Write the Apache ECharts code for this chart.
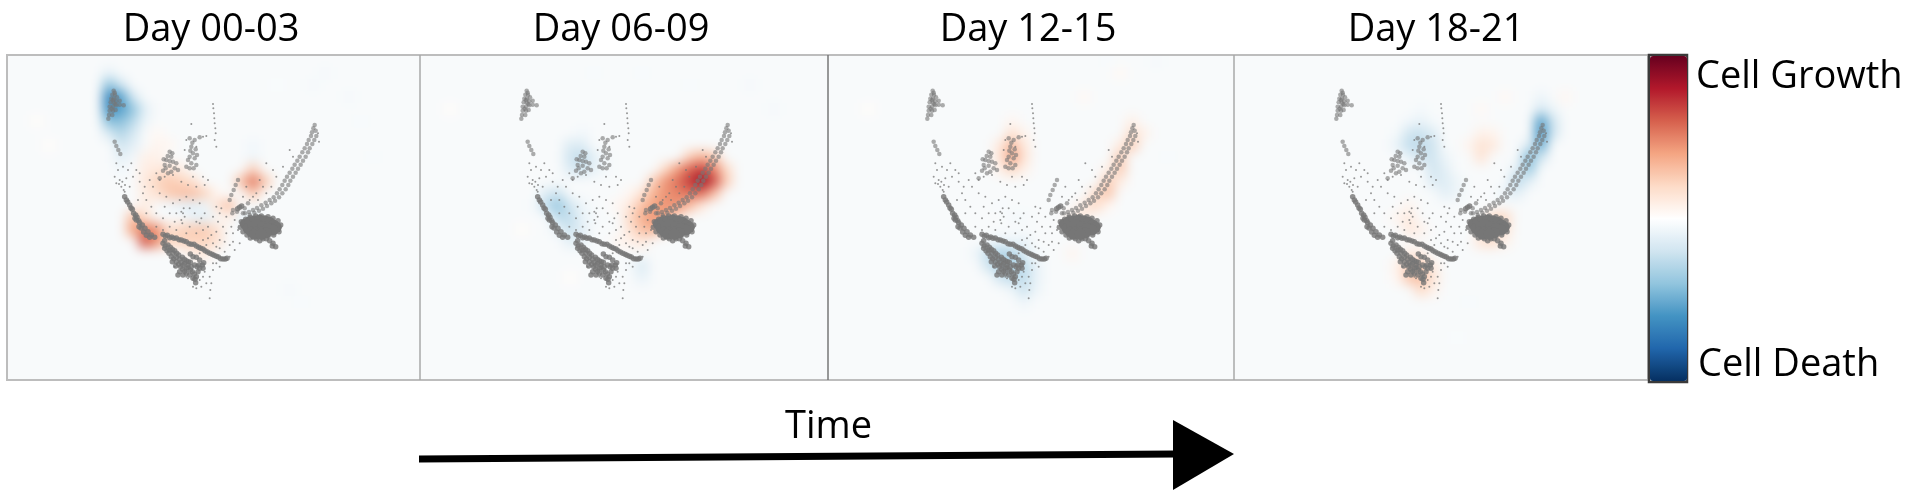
<!DOCTYPE html>
<html>
<head>
<meta charset="utf-8">
<title>Cell growth over time</title>
<script src="https://cdn.jsdelivr.net/npm/echarts@6/dist/echarts.min.js"></script>
<style>
    body { margin: 0; background: #fff; }
    #heatClip { position: absolute; left: 7px; top: 55px; width: 1641px; height: 325px; overflow: hidden; }
    #heat { position: absolute; left: -7px; top: -55px; width: 1914px; height: 497px; background: #f8fafb; filter: blur(6px); }
    #front { position: absolute; left: 0; top: 0; width: 1914px; height: 497px; filter: blur(0.7px); }
</style>
</head>
<body>
<div id="heatClip"><div id="heat"></div></div>
<div id="front"></div>
<script>
const periods = ['Day 00-03', 'Day 06-09', 'Day 12-15', 'Day 18-21'];
const columns = Array.from({length: 34}, (_, i) => i);
const rows = Array.from({length: 27}, (_, i) => i);

// Growth (+) and death (-) cells per period, as [column, row, value]
const growthDay00 = [
    [8,1,-.1],[8,2,-.4],[9,2,-.2],[8,3,-.66],[9,3,-.55],[10,3,-.18],[8,4,-.62],[9,4,-.55],[10,4,-.4],[11,4,-.12],
    [8,5,-.42],[9,5,-.42],[10,5,-.28],[11,5,-.08],[8,6,-.16],[9,6,-.3],[10,6,-.18],[9,7,-.2],[10,7,-.12],[9,8,-.12],[10,8,-.06],[9,9,-.06],
    [10,13,.3],[10,14,.4],[11,14,.52],[11,15,.62],[12,14,.45],[12,15,.45],[13,15,.2],[11,13,.18],[11,12,.1],
    [12,9,.12],[13,9,.15],[14,9,.1],[12,10,.22],[13,10,.26],[14,10,.22],[15,10,.16],[12,11,.16],[13,11,.26],
    [14,11,.3],[15,11,.3],[16,11,.22],[11,8,.08],[12,8,.08],[11,9,.1],[11,10,.12],[11,11,.1],[12,7,.06],[13,7,.05],[12,6,.04],
    [13,14,.16],[14,14,.22],[15,14,.26],[16,14,.26],[17,14,.16],[14,15,.22],[15,15,.22],[16,15,.22],[17,15,.16],[15,16,.1],[16,16,.12],
    [20,10,.55],[19,10,.28],[21,10,.26],[20,9,.24],[20,11,.26],
    [18,12,.3],[17,12,.16],[18,13,.08],[17,11,.05],
    [13,12,-.06],[14,12,-.1],[15,12,-.12],[16,13,-.12],[15,13,-.1],[16,12,-.08],[19,13,-.1],[20,13,-.1],
    [20,7,-.06],[20,8,-.07],[22,2,-.03],[25,2,-.05],[26,1,-.05],[28,3,-.05],[29,5,-.04],[30,8,-.04],[23,19,-.05],[24,20,-.04],[2,5,.02],[3,7,.02]
];
const growthDay06 = [
    [22,8,.25],[23,8,.35],[24,8,.25],[20,9,.2],[21,9,.42],[22,9,.58],[23,9,.68],[24,9,.5],[25,9,.2],
    [19,10,.25],[20,10,.45],[21,10,.55],[22,10,.7],[23,10,.85],[24,10,.65],[25,10,.25],
    [18,11,.15],[19,11,.35],[20,11,.45],[21,11,.5],[22,11,.55],[23,11,.55],[24,11,.3],
    [17,12,.12],[18,12,.3],[19,12,.4],[20,12,.45],[21,12,.45],[22,12,.3],[23,12,.12],
    [17,13,.2],[18,13,.35],[19,13,.45],[20,13,.4],[21,13,.15],[17,14,.15],[18,14,.3],[19,14,.35],[20,14,.1],
    [17,15,.08],[18,15,.12],[16,15,.06],[16,12,.05],[17,11,.05],
    [12,7,-.15],[13,7,-.15],[12,8,-.2],[13,8,-.25],[14,8,-.12],[12,9,-.15],[13,9,-.2],[14,9,-.1],[13,6,-.06],[15,9,-.05],[15,8,-.05],
    [10,11,-.15],[10,12,-.25],[11,11,-.2],[11,12,-.38],[12,12,-.2],[11,13,-.25],[12,13,-.25],[12,14,-.22],[13,13,-.1],[13,14,-.12],
    [12,15,-.12],[13,15,-.1],[11,14,-.1],[13,12,-.08],[14,13,-.05],[9,12,-.05],
    [18,17,-.16],[18,18,-.1],[17,17,-.05],
    [14,1,-.04],[18,1,-.04],[22,2,-.04],[27,2,-.05],[29,4,-.05],[2,4,.02],[8,14,.02],[12,18,.02]
];
const growthDay12 = [
    [15,8,.42],[15,7,.32],[15,6,.16],[14,7,.12],[16,7,.12],[14,8,.15],[16,8,.15],[15,9,.2],[14,9,.08],[16,9,.08],[16,6,.06],[15,5,.05],
    [25,6,.18],[25,7,.25],[24,8,.26],[24,9,.26],[23,10,.26],[23,11,.28],[22,11,.2],[22,12,.2],[21,12,.12],[21,13,.1],[20,13,.1],
    [25,5,.08],[26,6,.08],[24,7,.1],[23,9,.08],[24,10,.1],[23,12,.05],
    [13,16,-.25],[14,16,-.3],[15,16,-.3],[16,16,-.15],[13,17,-.2],[14,17,-.3],[15,17,-.3],[16,17,-.25],[14,18,-.2],[15,18,-.25],
    [16,18,-.25],[17,18,-.1],[12,16,-.08],[16,19,-.22],[15,19,-.08],[17,19,-.08],[16,20,-.08],[15,15,-.08],[16,15,-.1],[14,15,-.1],[17,16,-.05],[17,17,-.1],
    [14,12,-.04],[15,13,-.05],[16,13,-.05],[20,16,.06],[21,3,.04],[24,1,.04],[23,0,-.04],[27,0,-.05],[28,8,-.04],[3,4,.02]
];
const growthDay18 = [
    [25,5,-.55],[26,5,-.2],[25,6,-.6],[26,6,-.2],[25,7,-.5],[24,7,-.15],[24,8,-.45],[25,8,-.2],[24,9,-.38],[23,9,-.12],[23,10,-.28],[24,10,-.12],
    [23,11,-.12],[22,11,-.1],[25,4,-.18],[25,3,-.08],[26,4,-.08],
    [14,5,-.06],[15,5,-.1],[14,6,-.2],[15,6,-.22],[16,6,-.15],[14,7,-.25],[15,7,-.25],[16,7,-.2],[15,8,-.2],[16,8,-.2],[17,8,-.08],
    [16,9,-.2],[17,9,-.12],[16,10,-.15],[17,10,-.15],[18,10,-.08],[17,11,-.12],[18,11,-.08],[15,4,-.05],[16,5,-.05],[13,6,-.05],[13,7,-.1],[14,8,-.1],
    [20,7,.16],[21,7,.12],[20,8,.15],[20,6,.08],[19,7,.06],[21,6,.06],[22,3,.04],[20,4,.04],[27,3,.05],
    [21,13,.2],[21,14,.2],[20,15,.15],[21,15,.18],[22,13,.2],[22,14,.15],[22,15,.08],[20,14,.08],
    [14,17,.25],[15,17,.25],[14,18,.28],[15,18,.3],[16,18,.15],[15,19,.2],[14,16,.1],[15,16,.1],[16,17,.1],[13,17,.08],[13,18,.05],[16,19,.08],
    [14,13,.12],[14,14,.12],[14,12,.06],[13,13,.06],[15,14,.08],[19,20,-.04],[18,23,-.03]
];
const growthByPeriod = [growthDay00, growthDay06, growthDay12, growthDay18];

// Cell cloud, the same in every period. Embedding coordinates.
const cloudCore = [
    [737,672],[750,665],[765,662],[780,660],[795,662],[810,667],[822,675],[830,682],[745,685],[760,680],
    [775,675],[790,680],[805,685],[820,690],[755,695],[770,695],[785,695],[800,698],[765,703],[785,702]
];
const cloudBands = [
    // lower left arc
    [375,590],[380,600],[384,606],[390,615],[394,624],[398,628],[402,640],[408,645],[412,652],[417,662],[420,668],[428,675],[424,684],[436,685],[432,696],
    [445,695],[440,706],[455,705],[450,712],[465,712],[410,660],[418,680],[406,655],
    // upper dark line
    [490,703],[497,708],[503,706],[510,713],[516,711],[523,715],[530,714],[538,719],[545,720],[553,723],[560,725],[568,731],[575,733],[583,733],
    [590,738],[597,742],[603,745],[610,747],[616,752],[623,756],[630,760],[637,763],[643,766],[650,769],[656,771],[663,776],[670,777],[677,777],[682,775],
    // lower branches
    [490,730],[495,722],[497,738],[505,735],[512,742],[518,748],[525,752],[531,760],[537,765],[548,772],[554,778],[560,782],[566,785],[572,787],[585,795],[592,800],[600,805],[608,795],[612,788],
    [495,745],[502,752],[508,760],[515,770],[522,776],[530,785],[537,793],[543,800],[549,808],[555,814],[560,805],[565,803],[572,810],[578,815],[584,822],[590,830],[586,838],[588,848],[540,815],[535,825],
    [600,780],[590,772],[580,770],[572,762],[565,795],[555,790],[545,787],[575,800],[598,795],
    [510,750],[520,760],[530,772],[540,778],[550,795],[528,798],[518,785],[570,825],[560,820],[580,835],[595,815],[610,805],[550,825],
    // core fringe and tail
    [725,665],[722,682],[730,695],[742,705],[752,714],[770,716],[788,712],[805,708],[822,705],[838,695],[843,675],[835,662],[820,655],[805,650],[785,648],[768,648],[752,652],[738,658],
    [800,716],[810,722],[820,730],[828,740],[818,738],[790,716],[780,722],
    [720,622],[726,618],[714,626]
];
const cloudClusters = [
    // tip
    [342,272],[338,284],[346,284],[335,296],[343,296],[352,292],[333,307],[342,308],[350,304],[360,302],[330,320],[340,320],[350,316],[360,314],[372,316],
    [330,332],[340,332],[348,330],[328,345],[338,345],[326,356],[345,278],[340,300],[347,312],[336,326],
    // middle clusters
    [510,455],[515,470],[504,468],[500,480],[520,485],[510,483],[495,495],[510,497],[525,505],[490,512],[505,520],[480,535],[515,515],[498,505],[530,490],[518,460],[492,478],[535,510],
    [575,440],[580,460],[570,470],[585,475],[575,490],[565,480],[590,495],[570,415],[585,420],[600,412],[578,428],[572,452],[588,448],[560,500],[582,505],[570,505],[592,465],
    // left tail and small line
    [345,425],[350,438],[356,450],[362,462],[715,540],[708,555],[702,570],[695,585],[690,600],
    // right band
    [945,375],[941,385],[948,392],[937,397],[950,408],[934,408],[944,420],[927,420],[938,432],[922,432],[930,445],[915,445],[925,457],[908,457],[918,470],[900,470],
    [910,482],[893,482],[903,494],[885,494],[895,506],[878,506],[888,518],[870,518],[880,530],[862,530],[872,542],[855,542],[866,555],[848,555],[858,568],[840,568],
    [848,580],[832,580],[838,592],[822,592],[826,602],[810,600],[815,610],[798,608],[802,618],[785,616],[790,626],[772,624],[778,632],[760,630],[764,638],[748,636],[750,645],[736,640],
    [745,610],[735,625],[700,630],[730,640],[712,635],[698,640]
];
const cloudDots = [
    [640,312],[641,325],[643,340],[644,355],[645,370],[647,385],[648,400],[645,420],[650,440],[575,372],
    [560,420],[590,440],[610,410],[620,408],[555,450],[480,540],[495,530],[520,525],[545,545],[565,555],[590,560],[615,555],[625,540],[610,530],[580,530],
    [350,490],[355,510],[345,530],[360,540],[380,535],[350,550],[365,560],[375,575],[390,560],[400,530],[410,510],[395,490],[420,545],[430,580],[440,600],[415,600],
    [368,545],[376,555],[358,552],[372,570],
    [455,620],[470,640],[490,655],[510,680],[530,690],[550,640],[545,660],[555,650],[570,680],[590,700],[610,690],[625,715],[640,730],[660,720],[680,700],[695,680],
    [705,660],[680,650],[660,640],[640,650],[615,640],[600,610],[580,600],[560,590],[540,600],[520,610],[500,590],[480,580],[460,560],[450,540],[470,520],
    [630,830],[635,850],[632,870],[630,895],[620,850],[610,830],[640,810],[650,790],[660,800],[690,770],[705,750],[720,730],[700,725],
    [800,490],[820,510],[770,580],[790,560],[750,600],[830,530],[850,500],[880,470],[870,450],[955,400],[958,425],
    [600,670],[625,680],[650,695],[670,680],[635,705],[605,655],[585,640],[570,625],[530,640],[510,640],[495,620],[525,665],[560,700],[590,665],[655,665],
    [675,725],[660,745],[690,735],[675,755],[435,560],[420,520],[385,510],[370,500],[440,640],[470,680],[490,690],[580,860],[565,835],[600,840],[525,800],
    [665,625],[650,620],[760,590],[775,600],[800,580],[815,560],[780,540],[740,560],[730,590],
    [545,635],[552,625],[548,670],[610,720],[650,740],[620,735],[700,700],[715,690],[600,760],[640,790],[615,815],[605,860],[590,865],[560,830]
];

const colorRamp = ['#053061', '#2166ac', '#4393c3', '#92c5de', '#d1e5f0', '#ffffff', '#fddbc7', '#f4a582', '#d6604d', '#b2182b', '#67001f'];

// Panels share one scale, only their offset differs
const panelLefts = [7, 420, 826, 1235];
const panelTop = 55;
const panelWidth = 408;
const panelHeight = 325;
const titleCenters = [206, 616, 1023, 1431];
const font = '"Open Sans", "Noto Sans", sans-serif';

const panelGrid = (left) => ({left: left, top: panelTop, width: panelWidth, height: panelHeight});

// Back layer: the growth cells, softened by the css blur on #heat
const heatChart = echarts.init(document.getElementById('heat'));
heatChart.setOption({
    animation: false,
    grid: panelLefts.map(panelGrid),
    xAxis: panelLefts.map((_, i) => ({type: 'category', gridIndex: i, data: columns, show: false})),
    yAxis: panelLefts.map((_, i) => ({type: 'category', gridIndex: i, data: rows, inverse: true, show: false})),
    visualMap: {show: false, min: -1, max: 1, dimension: 2, inRange: {color: colorRamp}},
    series: growthByPeriod.map((cells, i) => ({
        type: 'heatmap',
        xAxisIndex: i,
        yAxisIndex: i,
        data: cells,
        progressive: 0
    }))
});

// Front layer: cloud, frames and text
const cloudLayers = [
    {data: cloudDots, size: 2, opacity: 0.75},
    {data: cloudClusters, size: 4.5, opacity: 0.6},
    {data: cloudBands, size: 5.5, opacity: 0.8},
    {data: cloudCore, size: 11, opacity: 1}
];
const cloudSeries = [];
panelLefts.forEach((_, i) => {
    cloudLayers.forEach((layer) => {
        cloudSeries.push({
            type: 'scatter',
            xAxisIndex: i,
            yAxisIndex: i,
            data: layer.data,
            symbolSize: layer.size,
            silent: true,
            itemStyle: {color: '#767676', opacity: layer.opacity}
        });
    });
});

const frame = (x, y, width, height, stroke, lineWidth) => ({
    type: 'rect',
    shape: {x: x, y: y, width: width, height: height},
    style: {fill: 'none', stroke: stroke, lineWidth: lineWidth}
});
const label = (text, x, y, size) => ({
    type: 'text',
    x: x,
    y: y,
    style: {text: text, fontFamily: font, fontSize: size, fill: '#000', textVerticalAlign: 'middle'}
});

const frontChart = echarts.init(document.getElementById('front'));
frontChart.setOption({
    animation: false,
    title: periods.map((text, i) => ({
        text: text,
        left: titleCenters[i],
        top: 6,
        textAlign: 'center',
        textStyle: {fontFamily: font, fontSize: 38, fontWeight: 'normal', color: '#000'}
    })),
    grid: panelLefts.map(panelGrid),
    xAxis: panelLefts.map((_, i) => ({type: 'value', gridIndex: i, min: 22, max: 1246, show: false})),
    yAxis: panelLefts.map((_, i) => ({type: 'value', gridIndex: i, min: 165, max: 1140, inverse: true, show: false})),
    visualMap: {
        seriesIndex: [],
        min: -1,
        max: 1,
        calculable: false,
        left: 1650,
        top: 56,
        itemWidth: 37,
        itemHeight: 325,
        padding: 0,
        text: ['', ''],
        showLabel: false,
        inRange: {color: colorRamp}
    },
    series: cloudSeries,
    graphic: [
        frame(7, 55, 1641, 325, '#bdbdbd', 2),
        {type: 'line', shape: {x1: 420, y1: 55, x2: 420, y2: 380}, style: {stroke: '#a8a8a8', lineWidth: 1.5}},
        {type: 'line', shape: {x1: 828, y1: 55, x2: 828, y2: 380}, style: {stroke: '#777', lineWidth: 1.5}},
        {type: 'line', shape: {x1: 1234, y1: 55, x2: 1234, y2: 380}, style: {stroke: '#a8a8a8', lineWidth: 1.5}},
        frame(1649, 55, 38, 327, '#3a3a3a', 2.5),
        label('Cell Growth', 1696, 77, 38),
        label('Cell Death', 1698, 365, 38),
        label('Time', 785, 427, 38),
        {type: 'polyline', shape: {points: [[419, 459], [1176, 454]]}, style: {stroke: '#000', lineWidth: 7, fill: 'none'}},
        {type: 'polygon', shape: {points: [[1173, 420], [1234, 454], [1173, 490]]}, style: {fill: '#000'}}
    ]
});
</script>
</body>
</html>
